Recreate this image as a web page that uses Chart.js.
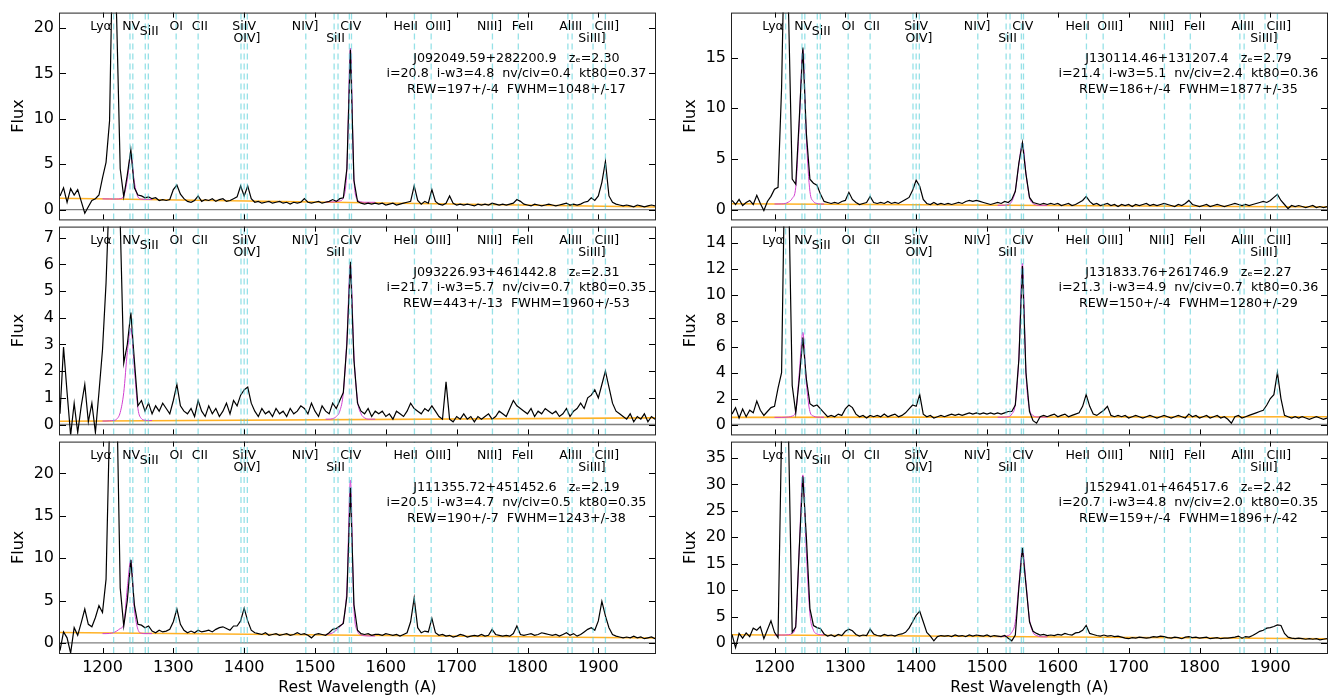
<!DOCTYPE html>
<html>
<head>
<meta charset="utf-8">
<script src="https://cdn.jsdelivr.net/npm/chart.js"></script>
<style>
  html, body { margin: 0; padding: 0; background: #fff; }
  #wrap { position: relative; width: 1328px; height: 699px; overflow: hidden; background: #fff; }
  #wrap canvas { position: absolute; }
</style>
</head>
<body>
<div id="wrap"></div>
<script>
// spectra are sampled on a 5 A rest-frame grid, 1140 .. 1980
const waveStart = 1140;
const waveStep = 5;

const xTickValues = [1200, 1300, 1400, 1500, 1600, 1700, 1800, 1900];

// emission line markers (cyan dashed) and their labels
const lineWaves = [1215.7, 1238.8, 1242.8, 1260.4, 1264.7, 1304.0, 1335.0, 1395.5, 1400.0, 1404.5,
  1487.0, 1527.0, 1532.5, 1548.5, 1551.5, 1640.4, 1664.0, 1750.5, 1787.0, 1857.0, 1863.0, 1892.5, 1910.0];
const lineLabels = ['Lyα', 'NV', 'SiII', 'OI', 'CII', 'SiIV', 'OIV]', 'NIV]', 'SiII', 'CIV',
  'HeII', 'OIII]', 'NIII]', 'FeII', 'AlIII', 'SiIII]', 'CIII]'];
const lineLabelWaves = [1198, 1240.5, 1266, 1304, 1337.5, 1400, 1404, 1486, 1529, 1550.5,
  1628, 1674, 1746.5, 1793, 1861, 1891, 1912];
const lineLabelRows = [0, 0, 1, 0, 0, 0, 2, 0, 2, 0, 0, 0, 0, 0, 0, 2, 0];

// object info
const quasarNames = ['J092049.59+282200.9', 'J093226.93+461442.8', 'J111355.72+451452.6',
  'J130114.46+131207.4', 'J131833.76+261746.9', 'J152941.01+464517.6'];
const redshifts = ['2.30', '2.31', '2.19', '2.79', '2.27', '2.42'];
const iMags = ['20.8', '21.7', '20.5', '21.4', '21.3', '20.7'];
const iW3 = ['4.8', '5.7', '4.7', '5.1', '4.9', '4.8'];
const nvCiv = ['0.4', '0.7', '0.5', '2.4', '0.7', '2.0'];
const kt80 = ['0.37', '0.35', '0.35', '0.36', '0.36', '0.35'];
const rewText = ['197+/-4', '443+/-13', '190+/-7', '186+/-4', '150+/-4', '159+/-4'];
const fwhmText = ['1048+/-17', '1960+/-53', '1243+/-38', '1877+/-35', '1280+/-29', '1896+/-42'];

// flux on the 5 A grid
const fluxJ0920 = [
  1.5, 2.4, 0.8, 2.3, 1.6, 2.2, 0.9, -0.4, 0.3, 1.0,
  1.2, 1.6, 3.5, 5.2, 9.8, 32, 21, 4.5, 1.4, 3.8,
  6.6, 2.4, 1.6, 1.5, 1.3, 1.4, 1.2, 1.3, 1.0, 1.1,
  1.0, 1.1, 2.2, 2.7, 1.7, 1.2, 0.9, 0.8, 1.0, 1.5,
  0.9, 1.1, 1.0, 1.2, 0.9, 1.1, 1.2, 0.9, 1.0, 1.2,
  1.4, 2.6, 1.5, 2.6, 1.2, 0.8, 0.9, 0.7, 0.8, 0.9,
  0.7, 0.8, 0.9, 0.7, 0.8, 0.6, 0.8, 0.7, 0.8, 1.2,
  0.8, 0.7, 0.8, 0.9, 0.7, 0.8, 0.9, 1.1, 0.9, 1.2,
  1.3, 4.5, 17.6, 3.2, 0.9, 0.7, 0.6, 0.7, 0.6, 0.7,
  0.6, 0.7, 0.5, 0.6, 0.7, 0.5, 0.6, 0.7, 0.8, 0.9,
  2.6, 1.0, 0.6, 0.9, 0.7, 2.2, 0.9, 0.6, 0.5, 0.7,
  1.5, 0.7, 0.5, 0.6, 0.5, 0.6, 0.5, 0.4, 0.6, 0.5,
  0.6, 0.5, 0.7, 0.6, 0.5, 0.6, 0.5, 0.6, 0.7, 1.1,
  0.9, 0.6, 0.5, 0.4, 0.6, 0.5, 0.4, 0.5, 0.6, 0.5,
  0.4, 0.5, 0.6, 0.7, 0.5, 0.6, 0.5, 0.6, 0.8, 0.9,
  1.3, 1.0, 1.5, 3.0, 5.3, 1.5, 0.8, 0.6, 0.5, 0.4,
  0.5, 0.4, 0.3, 0.5, 0.4, 0.3, 0.4, 0.5, 0.4
];
const fluxJ0932 = [
  0.4, 2.9, 1.2, -0.4, 0.8, -0.3, 0.7, 1.5, 0.1, 0.8,
  -0.3, 1.2, 2.8, 5.3, 9, 20, 12, 7.6, 2.3, 3.0,
  4.2, 2.4, 0.7, 0.9, 0.5, 0.8, 0.4, 0.7, 0.5, 0.8,
  0.6, 0.4, 0.9, 1.5, 0.7, 0.5, 0.4, 0.6, 0.3, 0.9,
  0.5, 0.3, 0.7, 0.4, 0.6, 0.3, 0.5, 0.8, 0.4, 0.9,
  0.7, 1.1, 1.3, 1.4, 0.8, 0.5, 0.3, 0.6, 0.4, 0.5,
  0.3, 0.6, 0.4, 0.5, 0.3, 0.6, 0.4, 0.5, 0.7, 0.6,
  0.4, 0.8, 0.5, 0.3, 0.7, 0.5, 0.4, 0.8, 0.6, 0.9,
  1.2, 3.0, 6.1, 2.4, 0.8, 0.5, 0.4, 0.6, 0.3, 0.5,
  0.4, 0.5, 0.3, 0.4, 0.2, 0.5, 0.4, 0.3, 0.5, 0.8,
  0.6, 0.5, 0.4, 0.6, 0.5, 0.7, 0.5, 0.3, 0.2, 1.6,
  0.2, 0.1, 0.3, 0.2, 0.4, 0.2, 0.3, 0.1, 0.3, 0.2,
  0.3, 0.4, 0.2, 0.3, 0.5, 0.4, 0.3, 0.6, 0.9, 0.7,
  0.6, 0.5, 0.4, 0.6, 0.3, 0.5, 0.4, 0.6, 0.5, 0.4,
  0.5, 0.3, 0.4, 0.6, 0.3, 0.5, 0.6, 0.8, 0.6, 1.0,
  1.1, 1.3, 1.0, 1.5, 2.0, 1.4, 0.8, 0.5, 0.4, 0.3,
  0.2, 0.4, 0.1, 0.3, 0.2, 0.4, 0.1, 0.3, 0.2
];
const fluxJ1113 = [
  -0.9, 1.3, 0.6, -1.2, 1.8, 0.9, 2.4, 4.0, 2.2, 1.9,
  3.0, 4.4, 3.6, 7.5, 26, 40, 30, 6.5, 2.0, 5.0,
  9.8, 4.5, 2.2, 2.1, 1.8, 2.0, 1.4, 1.2, 1.5, 1.3,
  1.4, 1.6, 2.5, 4.0, 2.2, 1.5, 1.2, 1.4, 1.2, 1.5,
  1.3, 1.4, 1.5, 1.3, 1.6, 1.8, 1.9, 1.7, 1.5, 2.0,
  2.0, 2.6, 4.1, 2.6, 1.5, 1.2, 1.1, 1.0, 1.2, 0.9,
  1.0, 1.1, 0.9, 1.0, 1.1, 0.9, 1.0, 1.2, 1.0, 1.1,
  0.9, 0.6, 1.0, 1.1, 1.0, 0.9, 1.2, 1.6, 1.7, 2.0,
  2.3, 5.5, 18.3, 4.5, 1.5, 1.1, 1.0, 1.1, 0.9, 1.0,
  1.0, 0.9, 1.1, 1.0, 0.9, 1.0, 0.8, 1.0, 1.2, 2.5,
  5.3, 1.8, 1.2, 1.4, 1.3, 2.9, 1.2, 0.9, 1.0, 0.8,
  0.9, 0.7, 0.8, 1.0, 0.9, 0.7, 0.8, 0.9, 0.8, 1.0,
  0.8, 0.9, 1.6, 1.0, 0.9, 0.8, 0.9, 0.8, 1.1, 2.0,
  1.0, 0.9, 1.0, 1.1, 0.9, 1.0, 1.2, 1.1, 1.0, 0.9,
  1.0, 0.8, 1.0, 1.2, 0.9, 1.1, 0.8, 1.0, 1.3, 1.6,
  1.8, 1.5, 2.6, 4.9, 3.2, 1.8, 1.0, 0.8, 0.7, 0.6,
  0.7, 0.6, 0.8, 0.6, 0.7, 0.5, 0.6, 0.7, 0.5
];
const fluxJ1301 = [
  0.9, 0.5, 1.0, 0.4, 0.7, 0.9, 0.5, 1.4, 0.6, -0.1,
  0.8, 1.3, 2.0, 2.2, 12, 30, 19, 3.0, 2.5, 9.0,
  16.0, 7.5, 3.0, 2.6, 2.4, 1.5, 0.8, 0.7, 0.6, 0.7,
  0.6, 0.8, 0.9, 1.7, 1.0, 0.7, 0.5, 0.6, 0.7, 1.3,
  0.7, 0.6, 0.7, 0.6, 0.8, 0.6, 0.7, 0.6, 0.8, 1.0,
  1.2, 1.9, 2.9, 2.3, 1.0, 0.6, 0.5, 0.7, 0.5, 0.6,
  0.5, 0.6, 0.5, 0.6, 0.7, 0.6, 0.8, 0.9, 0.8, 0.9,
  0.8, 0.7, 0.6, 0.5, 0.6, 0.7, 0.6, 0.8, 0.7, 1.0,
  1.8, 4.6, 6.6, 3.5, 1.2, 0.7, 0.6, 0.5, 0.6, 0.5,
  0.6, 0.5, 0.6, 0.4, 0.5, 0.6, 0.4, 0.5, 0.7, 0.9,
  1.3, 0.8, 0.5, 0.6, 0.4, 0.5, 0.6, 0.4, 0.5, 0.3,
  0.5, 0.4, 0.5, 0.3, 0.5, 0.4, 0.5, 0.6, 0.4, 0.5,
  0.4, 0.5, 0.6, 0.5, 0.4, 0.3, 0.5, 0.4, 0.6, 0.9,
  0.5, 0.4, 0.3, 0.4, 0.5, 0.3, 0.4, 0.5, 0.4, 0.3,
  0.4, 0.5, 0.6, 0.5, 0.4, 0.5, 0.4, 0.5, 0.6, 0.7,
  0.8, 0.7, 0.9, 1.2, 1.5, 0.9, 0.5, 0.1, 0.4, 0.3,
  0.4, 0.3, 0.2, 0.3, 0.4, 0.2, 0.3, 0.2, 0.3
];
const fluxJ1318 = [
  0.8, 1.3, 0.5, 1.2, 0.6, 1.1, 0.9, 1.8, 1.1, 0.7,
  1.0, 1.3, 1.4, 2.8, 4.0, 22, 18, 3.0, 0.9, 3.5,
  6.7, 3.5, 1.6, 1.4, 1.5, 1.2, 0.9, 0.6, 0.7, 0.6,
  0.8, 0.7, 1.2, 1.5, 1.3, 0.8, 0.6, 0.7, 0.5, 0.7,
  0.6, 0.7, 0.6, 0.8, 0.6, 0.7, 0.8, 0.6, 0.7, 0.9,
  1.2, 1.5, 1.4, 2.3, 0.8, 0.6, 0.7, 0.5, 0.6, 0.7,
  0.6, 0.7, 0.8, 0.7, 0.8, 0.7, 0.8, 0.9, 0.8, 0.9,
  0.8, 0.9, 0.8, 0.9, 0.8, 0.9, 0.8, 0.9, 1.0, 1.0,
  1.5, 5.0, 12.2, 4.0, 1.0, 0.3, 0.1, 0.6, 0.7, 0.6,
  0.7, 0.8, 0.6, 0.7, 0.8, 0.6, 0.7, 0.8, 0.9, 1.4,
  2.3, 1.4, 0.8, 0.7, 0.9, 1.1, 1.4, 0.7, 0.6, 0.7,
  0.6, 0.7, 0.5, 0.6, 0.7, 0.6, 0.5, 0.6, 0.7, 0.6,
  0.5, 0.6, 0.7, 0.6, 0.5, 0.6, 0.7, 0.6, 0.5, 0.8,
  0.6, 0.7, 0.5, 0.6, 0.7, 0.5, 0.6, 0.7, 0.5, 0.6,
  0.4, 0.1, 0.6, 0.7, 0.5, 0.6, 0.7, 0.8, 0.9, 1.0,
  1.1, 1.5, 2.0, 2.3, 4.0, 2.0, 0.7, 0.6, 0.5, 0.6,
  0.5, 0.6, 0.5, 0.4, 0.5, 0.6, 0.5, 0.4, 0.5
];
const fluxJ1529 = [
  1.6, -0.9, 1.8, 0.9, 1.9, 1.2, 2.8, 2.4, 3.1, 0.8,
  2.5, 4.2, 2.0, 1.0, 40, 60, 38, 2.0, 3.0, 18,
  31.5, 20, 6.5, 3.3, 2.9, 2.7, 1.7, 1.3, 1.5, 1.2,
  1.6, 1.4, 2.2, 2.6, 2.3, 1.6, 1.3, 1.5, 1.4, 2.6,
  1.7, 1.4, 1.3, 1.6, 1.4, 1.5, 1.3, 1.6, 1.7, 2.0,
  2.8, 4.0, 5.2, 6.0, 4.0, 2.0, 1.3, 0.4, 1.2, 1.4,
  1.3, 1.4, 1.2, 1.5, 1.3, 1.4, 1.2, 1.5, 1.3, 1.5,
  1.4, 1.3, 1.5, 1.2, 1.4, 1.3, 1.2, 1.4, 0.9, 0.4,
  1.5, 10.5, 18.0, 11.0, 4.0, 2.2, 1.8, 1.5, 1.6, 1.4,
  1.5, 1.4, 1.6, 1.5, 1.8, 1.6, 1.5, 1.9, 2.0, 2.4,
  3.3, 1.8, 1.6, 1.4, 1.3, 1.5, 1.3, 1.4, 1.2, 1.3,
  1.1, 0.9, 0.8, 1.0, 0.9, 1.1, 1.0, 0.9, 1.0, 1.2,
  1.1, 1.3, 1.2, 1.0, 0.9, 1.1, 1.0, 0.8, 1.1, 1.2,
  1.0, 1.1, 0.9, 1.0, 1.1, 0.8, 0.9, 1.0, 0.8, 0.9,
  0.9, 1.0, 1.1, 1.3, 0.9, 1.2, 1.1, 1.4, 1.8, 2.2,
  2.4, 2.8, 2.9, 3.1, 3.4, 3.3, 1.8, 1.1, 0.9, 0.8,
  0.9, 0.8, 0.7, 0.8, 0.7, 0.8, 0.6, 0.7, 0.8
];

// line fits (magenta) around NV and CIV
const fitNVWave = [1200, 1205, 1210, 1215, 1220, 1225, 1230, 1235, 1240, 1245, 1250, 1255, 1260, 1265, 1270];
const fitCIVWave = [1515, 1520, 1525, 1530, 1535, 1540, 1545, 1550, 1555, 1560, 1565, 1570, 1575, 1580, 1585];
const fitNVJ0920 = [1.18, 1.17, 1.17, 1.16, 1.16, 1.2, 1.5, 3.3, 6.0, 3.0, 1.4, 1.15, 1.12, 1.11, 1.1];
const fitCIVJ0920 = [0.85, 0.85, 0.84, 0.86, 0.95, 1.3, 4.5, 17.8, 3.3, 1.1, 0.85, 0.8, 0.8, 0.8, 0.8];
const fitNVJ0932 = [0.13, 0.13, 0.14, 0.15, 0.2, 0.45, 1.2, 2.7, 3.6, 2.1, 0.6, 0.22, 0.16, 0.15, 0.15];
const fitCIVJ0932 = [0.2, 0.2, 0.22, 0.3, 0.5, 1.2, 3.2, 6.0, 2.6, 0.9, 0.4, 0.25, 0.2, 0.2, 0.2];
const fitNVJ1113 = [1.1, 1.1, 1.12, 1.2, 1.4, 1.7, 2.2, 6.5, 9.8, 4.0, 1.6, 1.15, 1.1, 1.1, 1.1];
const fitCIVJ1113 = [1.0, 1.05, 1.2, 1.5, 1.9, 2.6, 6.5, 19.2, 4.0, 1.4, 0.95, 0.85, 0.82, 0.82, 0.82];
const fitNVJ1301 = [0.55, 0.55, 0.56, 0.6, 0.75, 1.1, 2.2, 8.5, 15.8, 7.0, 1.8, 0.8, 0.6, 0.55, 0.55];
const fitCIVJ1301 = [0.42, 0.42, 0.43, 0.5, 0.8, 1.9, 4.5, 6.6, 3.6, 1.2, 0.6, 0.45, 0.42, 0.42, 0.42];
const fitNVJ1318 = [0.55, 0.55, 0.55, 0.56, 0.58, 0.65, 1.0, 4.0, 7.1, 3.2, 1.0, 0.65, 0.57, 0.56, 0.56];
const fitCIVJ1318 = [0.56, 0.56, 0.57, 0.6, 0.8, 1.6, 5.2, 12.4, 4.0, 1.2, 0.7, 0.58, 0.57, 0.57, 0.57];
const fitNVJ1529 = [1.5, 1.5, 1.5, 1.5, 1.55, 1.8, 3.5, 18, 31.8, 17, 5.5, 2.4, 1.7, 1.55, 1.5];
const fitCIVJ1529 = [1.2, 1.2, 1.25, 1.4, 2.0, 4.0, 11, 17.8, 11.5, 4.5, 2.0, 1.4, 1.2, 1.15, 1.15];

// power-law continuum (orange), end points
const contWave = [1140, 1980];
const contJ0920 = [1.25, 0.28];
const contJ0932 = [0.12, 0.25];
const contJ1113 = [1.24, 0.58];
const contJ1301 = [0.57, 0.25];
const contJ1318 = [0.55, 0.6];
const contJ1529 = [1.56, 0.8];

// y axis tops and tick values
const yTops = [21.7, 7.42, 23.76, 19.45, 15.24, 38.1];
const yTicksList = [
  [0, 5, 10, 15, 20],
  [0, 1, 2, 3, 4, 5, 6, 7],
  [0, 5, 10, 15, 20],
  [0, 5, 10, 15],
  [0, 2, 4, 6, 8, 10, 12, 14],
  [0, 5, 10, 15, 20, 25, 30, 35]
];

const panels = [
  {col: 0, row: 0, flux: fluxJ0920, fitNV: fitNVJ0920, fitCIV: fitCIVJ0920, cont: contJ0920},
  {col: 0, row: 1, flux: fluxJ0932, fitNV: fitNVJ0932, fitCIV: fitCIVJ0932, cont: contJ0932},
  {col: 0, row: 2, flux: fluxJ1113, fitNV: fitNVJ1113, fitCIV: fitCIVJ1113, cont: contJ1113},
  {col: 1, row: 0, flux: fluxJ1301, fitNV: fitNVJ1301, fitCIV: fitCIVJ1301, cont: contJ1301},
  {col: 1, row: 1, flux: fluxJ1318, fitNV: fitNVJ1318, fitCIV: fitCIVJ1318, cont: contJ1318},
  {col: 1, row: 2, flux: fluxJ1529, fitNV: fitNVJ1529, fitCIV: fitCIVJ1529, cont: contJ1529}
];

// layout of the plot frames on the page
const colAreaLeft = [60, 732];
const rowAreaTop = [9, 223, 438];
const rowAreaBottom = [223, 438, 653];
const labelRowOffset = [14, 19, 26.5];
const FONT = '"DejaVu Sans", sans-serif';

Chart.defaults.font.family = FONT;
Chart.defaults.color = '#000';

const zip = (xs, ys) => ys.map((v, i) => ({x: xs[i], y: v}));

const panelDecor = {
  id: 'panelDecor',
  afterDatasetsDraw(chart, args, opts) {
    const {ctx, chartArea: a} = chart;
    const x = chart.scales.x, y = chart.scales.y;
    const k = opts.index;
    ctx.save();
    // inward ticks on all four sides
    ctx.strokeStyle = '#000';
    ctx.lineWidth = 1;
    ctx.beginPath();
    xTickValues.forEach(v => {
      const px = Math.round(x.getPixelForValue(v)) + 0.5;
      ctx.moveTo(px, a.top); ctx.lineTo(px, a.top + 5);
      ctx.moveTo(px, a.bottom); ctx.lineTo(px, a.bottom - 5);
    });
    yTicksList[k].forEach(v => {
      const py = Math.round(y.getPixelForValue(v)) + 0.5;
      ctx.moveTo(a.left, py); ctx.lineTo(a.left + 6, py);
      ctx.moveTo(a.right, py); ctx.lineTo(a.right - 6, py);
    });
    ctx.stroke();
    ctx.strokeStyle = '#222';
    ctx.strokeRect(a.left - 0.5, a.top + 0.5, a.right - a.left + 1, a.bottom - a.top);

    // line names
    ctx.fillStyle = '#000';
    ctx.font = '12.5px ' + FONT;
    ctx.textAlign = 'center';
    ctx.textBaseline = 'middle';
    lineLabels.forEach((t, i) => {
      ctx.fillText(t, x.getPixelForValue(lineLabelWaves[i]), a.top + labelRowOffset[lineLabelRows[i]]);
    });

    // object info block
    ctx.font = '12.7px ' + FONT;
    const cx = a.left + (a.right - a.left) * 0.767;
    ctx.fillText(quasarNames[k] + '   z\u2091=' + redshifts[k], cx, a.top + 45.7);
    ctx.fillText('i=' + iMags[k] + '  i-w3=' + iW3[k] + '  nv/civ=' + nvCiv[k] + '  kt80=' + kt80[k], cx, a.top + 61.4);
    ctx.fillText('REW=' + rewText[k] + '  FWHM=' + fwhmText[k], cx, a.top + 76.7);
    ctx.restore();
  }
};

const wrap = document.getElementById('wrap');

panels.forEach((p, k) => {
  const last = p.row === 2;
  const top = rowAreaTop[p.row] - 12;
  const height = last ? 699 - top : rowAreaBottom[p.row] + 12 - top;
  const left = colAreaLeft[p.col] - 60;
  const canvas = document.createElement('canvas');
  canvas.width = 657;
  canvas.height = height;
  canvas.style.left = left + 'px';
  canvas.style.top = top + 'px';
  canvas.style.width = '657px';
  canvas.style.height = height + 'px';
  wrap.appendChild(canvas);

  const yMax = yTops[k];
  const yMin = -0.05 * yMax;
  const waves = p.flux.map((_, i) => waveStart + i * waveStep);

  // lower order is drawn on top
  const datasets = [
    {data: [{x: 1140, y: 0}, {x: 1980, y: 0}], borderColor: '#808080', borderWidth: 1.3, order: 6},
    {data: zip(contWave, p.cont), borderColor: 'rgba(255,165,0,0.85)', borderWidth: 1.6, order: 5},
    {data: zip(fitNVWave, p.fitNV), borderColor: '#d040d0', borderWidth: 1, cubicInterpolationMode: 'monotone', order: 4},
    {data: zip(fitCIVWave, p.fitCIV), borderColor: '#d040d0', borderWidth: 1, cubicInterpolationMode: 'monotone', order: 4},
    {data: zip(waves, p.flux), borderColor: '#000', borderWidth: 1.2, order: 3}
  ];
  lineWaves.forEach(w => {
    datasets.push({
      data: [{x: w, y: yMin}, {x: w, y: yMax}],
      borderColor: 'rgba(80,205,215,0.6)', borderWidth: 1.3, borderDash: [6, 4], order: 1
    });
  });

  new Chart(canvas, {
    type: 'line',
    data: {datasets},
    options: {
      responsive: false,
      animation: false,
      devicePixelRatio: 1,
      layout: {padding: {top: 12, right: 2, bottom: last ? 0 : 12, left: 0}},
      elements: {point: {radius: 0}, line: {fill: false, tension: 0}},
      datasets: {line: {clip: 0}},
      plugins: {legend: {display: false}, tooltip: {enabled: false}, panelDecor: {index: k}},
      scales: {
        x: {
          type: 'linear', min: 1140, max: 1980,
          display: last,
          afterFit: s => { s.height = last ? 46 : 0; },
          afterBuildTicks: s => { s.ticks = xTickValues.map(v => ({value: v})); },
          grid: {display: false, drawTicks: false},
          border: {display: false},
          ticks: {font: {size: 16}, color: '#000', padding: 5, maxRotation: 0, autoSkip: false, callback: v => String(v)},
          title: {display: true, text: 'Rest Wavelength (A)', font: {size: 15.5}, color: '#000', padding: {top: 0, bottom: 1.4}}
        },
        y: {
          type: 'linear', min: yMin, max: yMax,
          afterFit: s => { s.width = 60; },
          afterBuildTicks: s => { s.ticks = yTicksList[k].map(v => ({value: v})); },
          grid: {display: false, drawTicks: false},
          border: {display: false},
          ticks: {font: {size: 16}, color: '#000', padding: 6, autoSkip: false, callback: v => String(v)},
          title: {display: true, text: 'Flux', font: {size: 16}, color: '#000', padding: {top: 9.4, bottom: 0}}
        }
      }
    },
    plugins: [panelDecor]
  });
});
</script>
</body>
</html>
